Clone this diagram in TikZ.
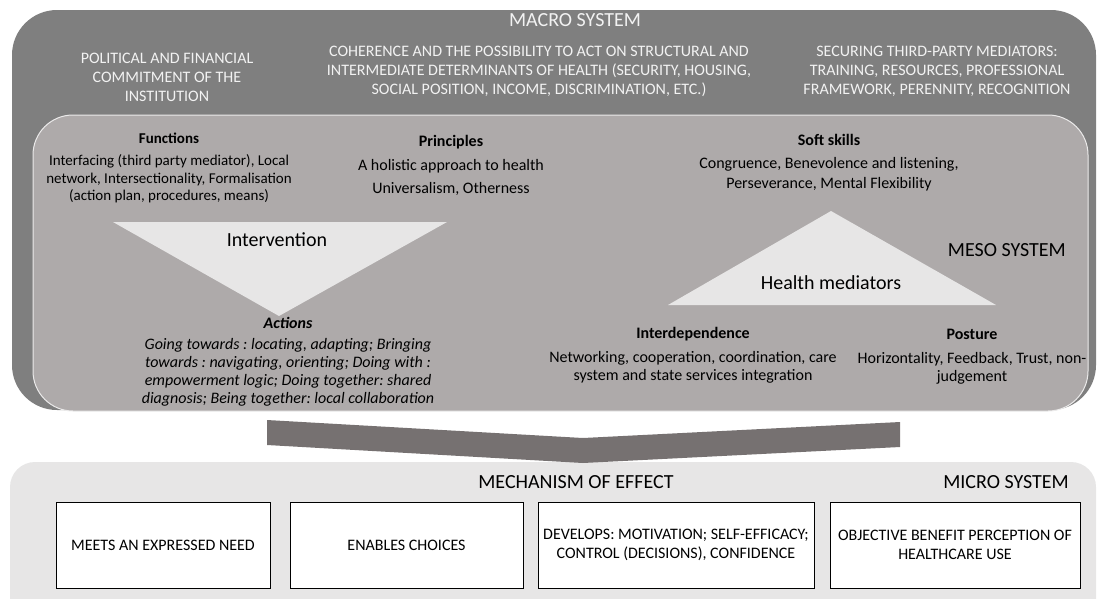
\documentclass[tikz,border=0pt]{standalone}
\usepackage{fontspec}
\setmainfont{Carlito}
\frenchspacing
\definecolor{macrogray}{HTML}{7F7F7F}
\definecolor{mesogray}{HTML}{AEAAAA}
\definecolor{microgray}{HTML}{E7E6E6}
\definecolor{arrowgray}{HTML}{767171}
\tikzset{
  syslabel/.style={inner sep=0pt, font=\fontsize{20}{24}\selectfont},
  macrotext/.style={inner sep=0pt, align=center, text=white!95!black, font=\fontsize{16}{19}\selectfont},
  mesotext/.style={inner sep=0pt, align=center, font=\fontsize{16}{18}\selectfont},
  effectbox/.style={draw=black, fill=white, line width=0.8pt, inner sep=2pt, align=center,
    minimum height=86pt, font=\fontsize{16}{19}\selectfont}
}
\begin{document}
\begin{tikzpicture}[x=1pt, y=-1pt]
\useasboundingbox (0,0) rectangle (1097,598);
% the three system frames
\fill[macrogray, rounded corners=45pt] (12,10) rectangle (1096,410);
\filldraw[fill=mesogray, draw=white!75!mesogray, line width=1pt, rounded corners=40pt] (33,115) rectangle (1088,411);
\begin{scope}
  \clip (0,0) rectangle (1097,598);
  \fill[microgray, rounded corners=25pt] (10,462) rectangle (1096,640);
\end{scope}
\fill[arrowgray] (267,420) -- (583,438) -- (900,422) -- (900,447) -- (583,463) -- (267,445) -- cycle;

% macro system
\node[syslabel, text=white!95!black] (macrolbl) at (575,20) {MACRO SYSTEM};
\node[macrotext] (political) at (167,77) {POLITICAL AND FINANCIAL\\COMMITMENT OF THE\\INSTITUTION};
\node[macrotext] (coherence) at (539,71) {COHERENCE AND THE POSSIBILITY TO ACT ON STRUCTURAL AND\\INTERMEDIATE DETERMINANTS OF HEALTH (SECURITY, HOUSING,\\SOCIAL POSITION, INCOME, DISCRIMINATION, ETC.)};
\node[macrotext] (securing) at (937,71) {SECURING THIRD-PARTY MEDIATORS:\\TRAINING, RESOURCES, PROFESSIONAL\\FRAMEWORK, PERENNITY, RECOGNITION};

% meso system
\fill[microgray] (113,222) -- (447,222) -- (279,316) -- cycle;
\fill[microgray] (831,211) -- (996,305) -- (668,305) -- cycle;
\node[syslabel] (interv) at (277,240) {Intervention};
\node[syslabel] (healthmed) at (831,283) {Health mediators};
\node[syslabel, anchor=east] (mesolbl) at (1066,250) {MESO SYSTEM};
\node[mesotext, font=\fontsize{15}{17.5}\selectfont] (functions) at (169,168) {\textbf{Functions}\\[5pt]Interfacing (third party mediator), Local\\network, Intersectionality, Formalisation\\(action plan, procedures, means)};
\node[mesotext] (principles) at (451,165) {\textbf{Principles}\\[6pt]A holistic approach to health\\[5pt]Universalism, Otherness};
\node[mesotext] (softskills) at (829,163) {\textbf{Soft skills}\\[5pt]Congruence, Benevolence and listening,\\[2pt]Perseverance, Mental Flexibility};
\node[mesotext, font=\fontsize{16}{18}\selectfont\itshape] (actions) at (288,362) {\textbf{Actions}\\[3pt]Going towards : locating, adapting; Bringing\\towards : navigating, orienting; Doing with :\\empowerment logic; Doing together: shared\\diagnosis; Being together: local collaboration};
\node[mesotext] (interdep) at (693,355) {\textbf{Interdependence}\\[6pt]Networking, cooperation, coordination, care\\system and state services integration};
\node[mesotext] (posture) at (972,357) {\textbf{Posture}\\[6pt]Horizontality, Feedback, Trust, non-\\judgement};

% micro system
\node[syslabel] (mechlbl) at (576,482) {MECHANISM OF EFFECT};
\node[syslabel, anchor=east] (microlbl) at (1069,482) {MICRO SYSTEM};
\node[effectbox, minimum width=214pt] (need) at (163,545) {MEETS AN EXPRESSED NEED};
\node[effectbox, minimum width=233pt] (choices) at (406.5,545) {ENABLES CHOICES};
\node[effectbox, minimum width=276pt] (develops) at (676,545) {DEVELOPS: MOTIVATION; SELF-EFFICACY;\\CONTROL (DECISIONS), CONFIDENCE};
\node[effectbox, minimum width=250pt] (benefit) at (955,545) {OBJECTIVE BENEFIT PERCEPTION OF\\HEALTHCARE USE};
\end{tikzpicture}
\end{document}
